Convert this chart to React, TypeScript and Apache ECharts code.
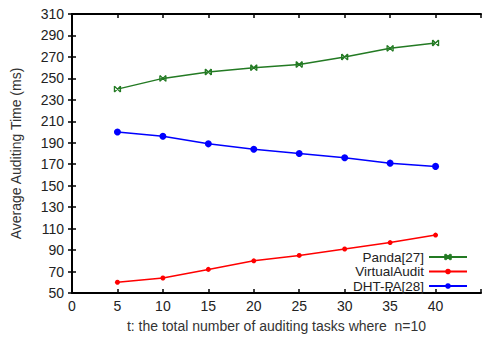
import React, { useEffect, useRef } from "react";
import * as echarts from "echarts";

const tasks = [5, 10, 15, 20, 25, 30, 35, 40];
const panda = [240, 250, 256, 260, 263, 270, 278, 283];
const virtualAudit = [60, 64, 72, 80, 85, 91, 97, 104];
const dhtPa = [200, 196, 189, 184, 180, 176, 171, 168];
const seriesNames = ["Panda[27]", "VirtualAudit", "DHT-PA[28]"];

const GREEN = "#237a23";
const RED = "#ff0000";
const BLUE = "#0000ff";
const FONT = "Liberation Sans, Arial, sans-serif";

export default function App() {
  const ref = useRef<HTMLDivElement>(null);
  useEffect(() => {
    if (!ref.current) return;
    const chart = echarts.init(ref.current, undefined, { renderer: "svg" });
    const pair = (vals: number[]) => tasks.map((t, i) => [t, vals[i]]);
    const axisLine = { show: true, lineStyle: { color: "#000", width: 2 } };
    const tick = { show: true, inside: true, length: 4, lineStyle: { color: "#000", width: 1.5 } };
    const legendBase = {
      orient: "vertical" as const,
      align: "right" as const,
      right: 16,
      itemWidth: 38,
      itemHeight: 7,
      textStyle: { fontFamily: FONT, fontSize: 13.5, color: "#222", lineHeight: 12 },
      padding: 0,
    };
    chart.setOption({
      animation: false,
      backgroundColor: "#fff",
      grid: { left: 72, top: 14, right: -2, bottom: 44 },
      xAxis: [
        {
          type: "value",
          min: 0,
          max: 45,
          interval: 5,
          position: "bottom",
          axisLine,
          axisTick: tick,
          splitLine: { show: false },
          axisLabel: {
            fontFamily: FONT,
            fontSize: 14,
            color: "#222",
            margin: 6,
            formatter: (v: number) => (v > 40 ? "" : String(v)),
          },
          name: "t: the total number of auditing tasks where  n=10",
          nameLocation: "middle",
          nameGap: 26,
          nameTextStyle: { fontFamily: FONT, fontSize: 14, color: "#333", verticalAlign: "top" },
        },
        {
          type: "value",
          min: 0,
          max: 45,
          interval: 5,
          position: "top",
          axisLine,
          axisTick: tick,
          splitLine: { show: false },
          axisLabel: { show: false },
        },
      ],
      yAxis: [
        {
          type: "value",
          min: 50,
          max: 310,
          interval: 20,
          position: "left",
          axisLine,
          axisTick: tick,
          splitLine: { show: false },
          axisLabel: { fontFamily: FONT, fontSize: 14, color: "#222", margin: 8 },
          name: "Average Auditing Time (ms)",
          nameLocation: "middle",
          nameGap: 49,
          nameTextStyle: { fontFamily: FONT, fontSize: 14, color: "#333" },
        },
        {
          type: "value",
          min: 50,
          max: 310,
          interval: 20,
          position: "right",
          axisLine,
          axisTick: tick,
          splitLine: { show: false },
          axisLabel: { show: false },
        },
      ],
      legend: [
        { ...legendBase, top: 250, data: [seriesNames[0]] },
        { ...legendBase, top: 264.5, data: [seriesNames[1]] },
        { ...legendBase, top: 279, data: [seriesNames[2]] },
      ],
      series: [
        {
          name: seriesNames[0],
          type: "line",
          data: pair(panda),
          symbol: "path://M0,0L10,10M10,0L0,10M0,0L0,10M10,0L10,10",
          symbolSize: 6,
          itemStyle: { color: "rgba(0,0,0,0)", borderColor: GREEN, borderWidth: 1.3 },
          lineStyle: { color: GREEN, width: 1.5 },
        },
        {
          name: seriesNames[1],
          type: "line",
          data: pair(virtualAudit),
          symbol: "circle",
          symbolSize: 5,
          itemStyle: { color: RED },
          lineStyle: { color: RED, width: 1.5 },
        },
        {
          name: seriesNames[2],
          type: "line",
          data: pair(dhtPa),
          symbol: "circle",
          symbolSize: 7,
          itemStyle: { color: BLUE },
          lineStyle: { color: BLUE, width: 1.5 },
        },
      ],
    });
    return () => chart.dispose();
  }, []);
  return (
    <div
      ref={ref}
      style={{ position: "fixed", left: 0, top: 0, width: 484, height: 338, background: "#fff" }}
    />
  );
}
